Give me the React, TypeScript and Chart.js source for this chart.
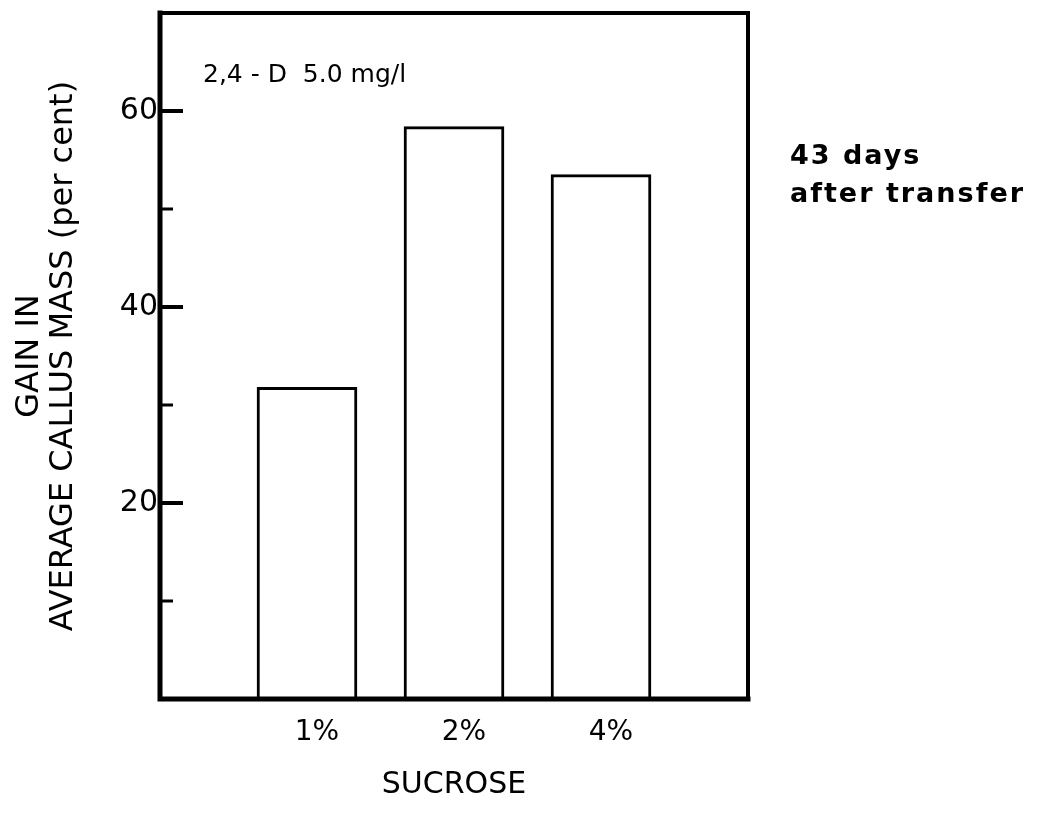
import React, { useEffect, useRef } from "react";
import { Chart, registerables } from "chart.js";

Chart.register(...registerables);

const categories = ["1%", "2%", "4%"];
const gainValues = [31.8, 58.4, 53.5];
const yTickLabels = [20, 40, 60];
const minorTicks = [10, 30, 50];
const yTitle = ["GAIN IN", "AVERAGE CALLUS MASS (per cent)"];
const xTitle = "SUCROSE";
const innerNote = "2,4 - D  5.0 mg/l";
const sideNote = ["43 days", "after transfer"];

const FONT = "'DejaVu Sans', sans-serif";

const framePlugin = {
  id: "frameAndNotes",
  afterDatasetsDraw(chart: any) {
    const { ctx, chartArea } = chart;
    const { left, top, right, bottom } = chartArea;
    const y = chart.scales.y;
    ctx.save();
    ctx.strokeStyle = "#000";
    ctx.lineCap = "square";
    // frame
    ctx.lineWidth = 4;
    ctx.beginPath();
    ctx.moveTo(left, top);
    ctx.lineTo(right, top);
    ctx.lineTo(right, bottom);
    ctx.stroke();
    ctx.lineWidth = 5;
    ctx.beginPath();
    ctx.moveTo(left, top);
    ctx.lineTo(left, bottom);
    ctx.lineTo(right, bottom);
    ctx.stroke();
    // inward ticks
    ctx.lineCap = "butt";
    yTickLabels.forEach((v) => {
      const py = y.getPixelForValue(v);
      ctx.lineWidth = 4;
      ctx.beginPath();
      ctx.moveTo(left, py);
      ctx.lineTo(left + 23, py);
      ctx.stroke();
    });
    minorTicks.forEach((v) => {
      const py = y.getPixelForValue(v);
      ctx.lineWidth = 3;
      ctx.beginPath();
      ctx.moveTo(left, py);
      ctx.lineTo(left + 13, py);
      ctx.stroke();
    });
    // notes
    ctx.fillStyle = "#000";
    ctx.textBaseline = "alphabetic";
    ctx.textAlign = "left";
    ctx.font = `25px ${FONT}`;
    ctx.fillText(innerNote, left + 43, top + 69);
    ctx.font = `bold 27px ${FONT}`;
    try {
      (ctx as any).letterSpacing = "2px";
    } catch (e) {}
    sideNote.forEach((t, i) => {
      ctx.fillText(t, right + 42, 164 + i * 38);
    });
    ctx.restore();
  },
};

export default function App() {
  const canvasRef = useRef<HTMLCanvasElement>(null);

  useEffect(() => {
    const canvas = canvasRef.current;
    if (!canvas) return;
    const chart = new Chart(canvas, {
      type: "bar",
      data: {
        labels: ["", ...categories, ""],
        datasets: [
          {
            data: [null, ...gainValues, null],
            backgroundColor: "#ffffff",
            borderColor: "#000000",
            borderWidth: 3,
            borderSkipped: "start",
            barThickness: 100,
          },
        ],
      },
      options: {
        animation: false,
        responsive: false,
        maintainAspectRatio: false,
        layout: { padding: { top: 13, right: 293, left: 0, bottom: 0 } },
        plugins: {
          legend: { display: false },
          tooltip: { enabled: false },
        },
        scales: {
          x: {
            type: "category",
            offset: false,
            grid: { display: false, drawTicks: false },
            border: { display: false },
            afterFit: (s: any) => {
              s.height = 115;
              s.paddingLeft = 0;
              s.paddingRight = 0;
            },
            ticks: {
              color: "#000",
              font: { family: FONT, size: 28 },
              padding: 17,
              labelOffset: 10,
              maxRotation: 0,
              autoSkip: false,
            },
            title: {
              display: true,
              text: xTitle,
              color: "#000",
              font: { family: FONT, size: 30 },
              padding: { top: 0, bottom: 11 },
            },
          },
          y: {
            min: 0,
            max: 70,
            grid: { display: false, drawTicks: false },
            border: { display: false },
            afterFit: (s: any) => {
              s.width = 160;
              s.paddingTop = 0;
              s.paddingBottom = 0;
            },
            ticks: {
              stepSize: 10,
              color: "#000",
              font: { family: FONT, size: 30 },
              padding: 2,
              callback: (v: any) => (yTickLabels.includes(Number(v)) ? String(v) : null),
            },
            title: {
              display: true,
              text: yTitle,
              color: "#000",
              font: { family: FONT, size: 32, lineHeight: 1.05 },
              padding: { top: 13, bottom: 0 },
            },
          },
        },
      },
      plugins: [framePlugin],
    });
    return () => chart.destroy();
  }, []);

  return (
    <div style={{ position: "absolute", left: 0, top: 0, width: 1041, height: 814, background: "#fff" }}>
      <canvas ref={canvasRef} width={1041} height={814} style={{ width: 1041, height: 814 }} />
    </div>
  );
}
